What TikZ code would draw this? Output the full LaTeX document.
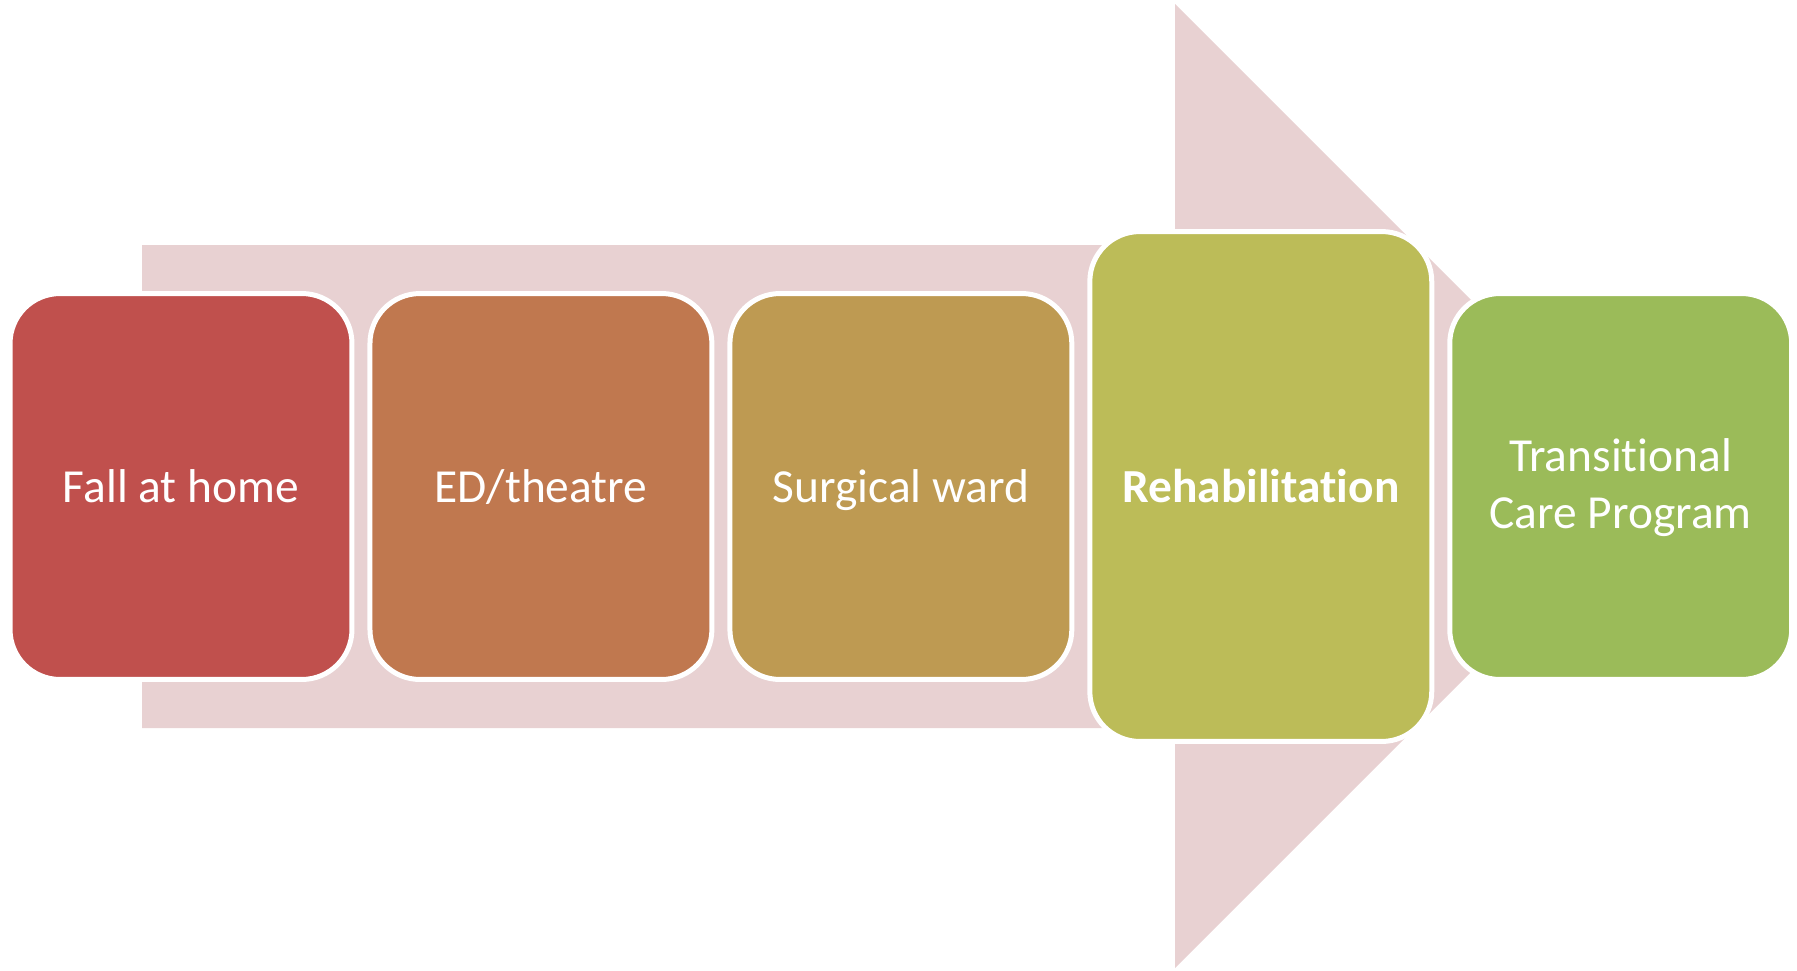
\documentclass[tikz,border=0pt]{standalone}
\usepackage{fontspec}
\setmainfont[Ligatures=NoCommon]{Carlito}
\usetikzlibrary{positioning}

\definecolor{arrowpink}{HTML}{E8D1D2}
\definecolor{stepred}{HTML}{C0504D}
\definecolor{steporange}{HTML}{C0784F}
\definecolor{stepochre}{HTML}{BE9A52}
\definecolor{stepolive}{HTML}{BCBC58}
\definecolor{stepgreen}{HTML}{9BBB59}

% a strut a little taller than usual, so the labels sit lower
\newcommand{\labelstrut}{\rule[-9.6pt]{0pt}{37pt}}
\newcommand{\twolinestrut}{\rule{0pt}{25pt}}

\begin{document}
\begin{tikzpicture}[
    x=0.02cm, y=-0.02cm,
    node distance=0.26cm,
    stagebox/.style={draw=white, line width=0.1cm, rounded corners=1cm,
      minimum width=6.84cm, minimum height=7.72cm, inner sep=0pt,
      align=center, text=white, font=\fontsize{27}{32}\selectfont,
      execute at begin node=\labelstrut}
  ]
    \useasboundingbox (0,0) rectangle (1797,970);
    % big background arrow
    \fill[arrowpink] (142,245) -- (1175,245) -- (1175,4) -- (1657,486)
      -- (1175,968) -- (1175,728) -- (142,728) -- cycle;
    % the stages
    \node[stagebox, fill=stepred] (fall) at (181,486.5) {Fall at home};
    \node[stagebox, fill=steporange, right=of fall] (ed) {ED/theatre};
    \node[stagebox, fill=stepochre, right=of ed] (ward) {Surgical ward};
    \node[stagebox, fill=stepolive, right=of ward, minimum height=10.2cm,
      font=\fontsize{27}{32}\selectfont\bfseries] (rehab) {Rehabilitation};
    \node[stagebox, fill=stepgreen, right=of rehab] (tcp)
      {\twolinestrut Transitional\\Care Program};
  \end{tikzpicture}
\end{document}
